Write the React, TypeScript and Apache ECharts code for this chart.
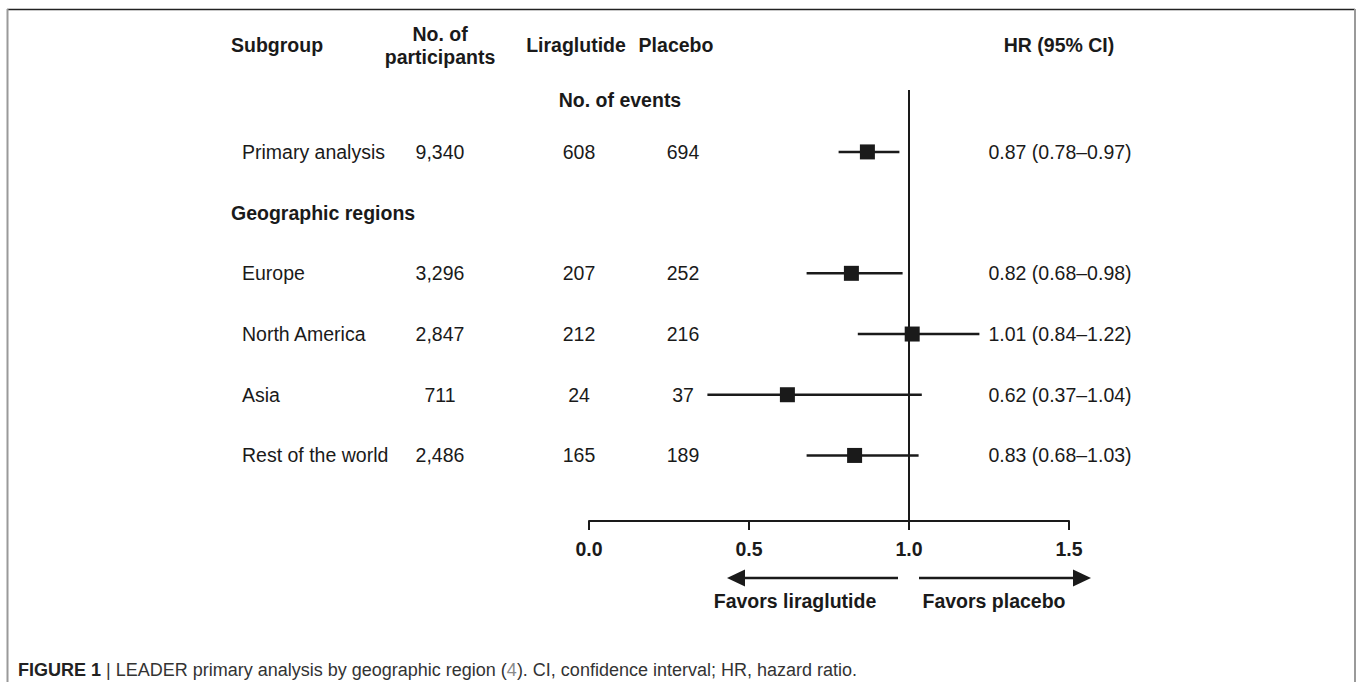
import React, { useEffect, useRef } from "react";
import * as echarts from "echarts";

// ---------------- data ----------------
const subgroups = ["Primary analysis", "Europe", "North America", "Asia", "Rest of the world"];
const rowIndex = [0, 2, 3, 4, 5];
const sectionTitle = "Geographic regions";
const sectionRow = 1;
const participants = [9340, 3296, 2847, 711, 2486];
const liraglutideEvents = [608, 207, 212, 24, 165];
const placeboEvents = [694, 252, 216, 37, 189];
const hazardRatio = [0.87, 0.82, 1.01, 0.62, 0.83];
const ciLower = [0.78, 0.68, 0.84, 0.37, 0.68];
const ciUpper = [0.97, 0.98, 1.22, 1.04, 1.03];
const xTicks = [0, 0.5, 1.0, 1.5];
const referenceHR = 1.0;

// ---------------- style ----------------
const FONT = "'Liberation Sans', Arial, Helvetica, sans-serif";
const INK = "#1a1a1a";
const FS = 19.5;

const COL_LABEL = 242;
const COL_SECTION = 231;
const COL_PART = 440;
const COL_LIRA = 579;
const COL_PLAC = 683;
const COL_HR = 1060;

const fmtHR = (i: number) =>
  `${hazardRatio[i].toFixed(2)} (${ciLower[i].toFixed(2)}–${ciUpper[i].toFixed(2)})`;

export default function App() {
  const ref = useRef<HTMLDivElement>(null);

  useEffect(() => {
    if (!ref.current) return;
    const chart = echarts.init(ref.current, undefined, { renderer: "svg" });

    const ciData = subgroups.map((_, i) => [hazardRatio[i], rowIndex[i], ciLower[i], ciUpper[i]]);
    const tableData: number[][] = subgroups.map((_, i) => [0, rowIndex[i], i]);
    tableData.push([0, sectionRow, -1]);

    const txt = (
      text: string,
      x: number,
      y: number,
      align: string,
      bold = false,
      extra: any = {}
    ) => ({
      type: "text",
      x,
      y,
      silent: true,
      style: {
        text,
        fill: INK,
        fontFamily: FONT,
        fontSize: FS,
        fontWeight: bold ? "bold" : "normal",
        align,
        verticalAlign: "middle",
        ...extra,
      },
    });

    const option: any = {
      animation: false,
      backgroundColor: "#ffffff",
      grid: { left: 589, width: 480, top: 90, height: 431 },
      xAxis: {
        type: "value",
        min: xTicks[0],
        max: xTicks[xTicks.length - 1],
        interval: 0.5,
        axisLine: { show: true, onZero: false, lineStyle: { color: INK, width: 2 } },
        axisTick: { show: true, length: 9, lineStyle: { color: INK, width: 2 } },
        axisLabel: {
          formatter: (v: number) => v.toFixed(1),
          fontFamily: FONT,
          fontSize: FS,
          fontWeight: "bold",
          color: INK,
          margin: 18,
        },
        splitLine: { show: false },
      },
      yAxis: {
        type: "value",
        inverse: true,
        min: -1.02,
        max: 6.08,
        show: false,
      },
      series: [
        {
          type: "line",
          data: [],
          silent: true,
          markLine: {
            silent: true,
            symbol: "none",
            label: { show: false },
            lineStyle: { color: INK, width: 2, type: "solid" },
            data: [{ xAxis: referenceHR }],
          },
        },
        {
          type: "custom",
          name: "CI",
          clip: false,
          silent: true,
          encode: { x: [0, 2, 3], y: 1 },
          data: ciData,
          renderItem: (params: any, api: any) => {
            const hr = api.value(0);
            const row = api.value(1);
            const lo = api.coord([api.value(2), row]);
            const hi = api.coord([api.value(3), row]);
            const c = api.coord([hr, row]);
            const s = 15;
            return {
              type: "group",
              children: [
                {
                  type: "line",
                  shape: { x1: lo[0], y1: lo[1], x2: hi[0], y2: hi[1] },
                  style: { stroke: INK, lineWidth: 2.5 },
                },
                {
                  type: "rect",
                  shape: { x: c[0] - s / 2, y: c[1] - s / 2, width: s, height: s },
                  style: { fill: INK },
                },
              ],
            };
          },
        },
        {
          type: "custom",
          name: "table",
          clip: false,
          silent: true,
          encode: { x: 0, y: 1 },
          data: tableData,
          renderItem: (params: any, api: any) => {
            const row = api.value(1);
            const i = api.value(2);
            const y = api.coord([0, row])[1];
            if (i < 0) {
              return txt(sectionTitle, COL_SECTION, y, "left", true);
            }
            return {
              type: "group",
              children: [
                txt(subgroups[i], COL_LABEL, y, "left"),
                txt(participants[i].toLocaleString("en-US"), COL_PART, y, "center"),
                txt(String(liraglutideEvents[i]), COL_LIRA, y, "center"),
                txt(String(placeboEvents[i]), COL_PLAC, y, "center"),
                txt(fmtHR(i), COL_HR, y, "center"),
              ],
            };
          },
        },
      ],
      graphic: [
        // figure frame
        {
          type: "line",
          silent: true,
          shape: { x1: 7, y1: 9.5, x2: 1355, y2: 9.5 },
          style: { stroke: "#222", lineWidth: 1.5 },
        },
        {
          type: "line",
          silent: true,
          shape: { x1: 7.5, y1: 9, x2: 7.5, y2: 682 },
          style: { stroke: "#9a9a9a", lineWidth: 2 },
        },
        {
          type: "line",
          silent: true,
          shape: { x1: 1355, y1: 9, x2: 1355, y2: 682 },
          style: { stroke: "#9a9a9a", lineWidth: 2 },
        },
        // headers
        txt("Subgroup", 231, 45, "left", true),
        txt("No. of\nparticipants", COL_PART, 45, "center", true, { lineHeight: 23 }),
        txt("Liraglutide", 576, 45, "center", true),
        txt("Placebo", 676, 45, "center", true),
        txt("HR (95% CI)", 1059, 45, "center", true),
        txt("No. of events", 620, 100, "center", true),
        // arrows
        {
          type: "line",
          silent: true,
          shape: { x1: 898, y1: 578, x2: 742, y2: 578 },
          style: { stroke: INK, lineWidth: 2.5 },
        },
        {
          type: "polygon",
          silent: true,
          shape: { points: [[727, 578], [745, 569.5], [745, 586.5]] },
          style: { fill: INK },
        },
        {
          type: "line",
          silent: true,
          shape: { x1: 919, y1: 578, x2: 1076, y2: 578 },
          style: { stroke: INK, lineWidth: 2.5 },
        },
        {
          type: "polygon",
          silent: true,
          shape: { points: [[1091, 578], [1073, 569.5], [1073, 586.5]] },
          style: { fill: INK },
        },
        txt("Favors liraglutide", 795, 601, "center", true),
        txt("Favors placebo", 994, 601, "center", true),
        // caption
        {
          type: "text",
          x: 18,
          y: 670,
          silent: true,
          style: {
            text: "{b|FIGURE 1 }| LEADER primary analysis by geographic region ({g|4}). CI, confidence interval; HR, hazard ratio.",
            fill: "#333",
            fontFamily: FONT,
            fontSize: 18,
            verticalAlign: "middle",
            rich: {
              b: { fontWeight: "bold", fill: "#222", fontFamily: FONT, fontSize: 18 },
              g: { fill: "#8a8a8a", fontFamily: FONT, fontSize: 18 },
            },
          },
        },
      ],
    };

    chart.setOption(option);
    return () => chart.dispose();
  }, []);

  return (
    <div
      ref={ref}
      style={{ position: "absolute", left: 0, top: 0, width: 1357, height: 682, background: "#fff" }}
    />
  );
}
